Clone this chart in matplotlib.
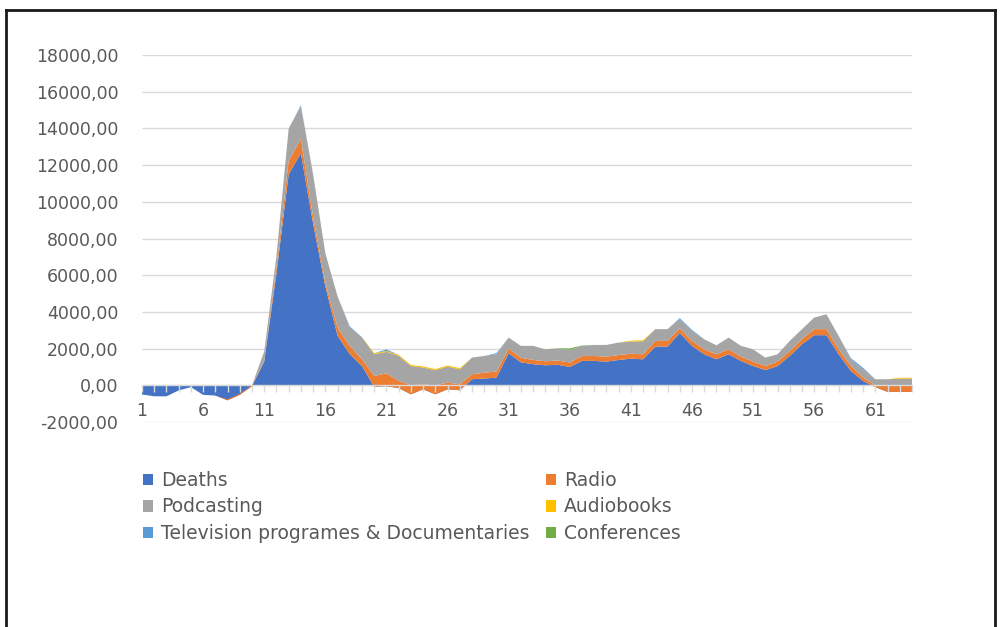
import matplotlib
matplotlib.use("Agg")
import matplotlib.pyplot as plt
from matplotlib.patches import Patch
from matplotlib.lines import Line2D
import numpy as np

x = list(range(1, 65))

deaths = [-500, -600, -600, -280, -100, -520, -560, -820, -520, -50,
          1300, 6100, 11500, 12650, 8800, 5400, 2700, 1700, 1050, -80,
          -50, -150, -490, -220, -490, -220, -270, 330, 370, 420,
          1750, 1250, 1150, 1090, 1120, 1000, 1330, 1330, 1290, 1380,
          1450, 1420, 2110, 2110, 2850, 2150, 1690, 1420, 1690, 1330,
          1050, 830, 1050, 1600, 2240, 2730, 2730, 1690, 780, 235,
          -100, -360, -360, -360]
radio = [0, 0, 0, 0, 0, 0, 0, 60, 60, 60,
         60, 300, 730, 770, 400, 200, 450, 440, 370, 590,
         700, 390, 490, 270, 490, 370, 320, 270, 320, 330,
         250, 250, 230, 220, 230, 240, 270, 270, 270, 270,
         270, 270, 310, 310, 250, 270, 270, 270, 270, 230,
         240, 220, 240, 270, 270, 330, 330, 270, 270, 185,
         100, 360, 360, 360]
podcasting = [0, 0, 0, 0, 0, 0, 0, 0, 0, 0,
              480, 650, 1760, 1780, 2300, 1600, 1700, 1010, 1200, 1180,
              1170, 1360, 1050, 920, 820, 870, 820, 910, 910, 940,
              600, 650, 770, 650, 650, 690, 550, 600, 640, 680,
              660, 710, 640, 640, 500, 540, 550, 490, 640, 590,
              670, 460, 400, 550, 550, 630, 810, 730, 370, 450,
              330, 330, 360, 360]
audiobooks = [0, 0, 0, 0, 0, 0, 0, 0, 0, 0,
              0, 0, 0, 0, 0, 0, 0, 0, 0, 60,
              50, 60, 60, 60, 60, 60, 60, 0, 0, 0,
              0, 0, 0, 0, 0, 0, 0, 0, 0, 0,
              50, 60, 0, 0, 0, 0, 0, 0, 0, 0,
              0, 0, 0, 0, 0, 0, 0, 0, 0, 0,
              0, 0, 50, 50]
television = [0, 0, 0, 0, 0, 0, 0, 0, 0, 0,
              0, 0, 0, 60, 0, 0, 0, 60, 0, 0,
              80, 0, 0, 0, 0, 0, 0, 0, 0, 60,
              0, 0, 0, 0, 0, 0, 0, 0, 0, 0,
              0, 0, 0, 0, 60, 60, 0, 0, 0, 0,
              0, 0, 0, 0, 0, 0, 0, 0, 60, 80,
              0, 0, 0, 0]
conferences = [0, 0, 0, 0, 0, 0, 0, 0, 0, 0,
               0, 0, 0, 0, 0, 0, 0, 0, 0, 0,
               0, 0, 0, 0, 0, 0, 0, 0, 0, 0,
               0, 0, 0, 0, 20, 80, 20, 0, 0, 0,
               0, 0, 0, 0, 0, 0, 0, 0, 0, 0,
               0, 0, 0, 0, 0, 0, 0, 0, 0, 0,
               0, 0, 0, 0]

series_names = ["Deaths", "Radio", "Podcasting", "Audiobooks",
                "Television programes & Documentaries", "Conferences"]
colors = ["#4472C4", "#ED7D31", "#A5A5A5", "#FFC000", "#5B9BD5", "#70AD47"]
y_ticks = [-2000, 0, 2000, 4000, 6000, 8000, 10000, 12000, 14000, 16000, 18000]
x_label_every = 5

plt.rcParams['font.family'] = ['DejaVu Sans']
W, H = 1001, 627
fig = plt.figure(figsize=(W / 100, H / 100), dpi=100)

ax = fig.add_axes([142 / W, 1 - 422 / H, (912 - 142) / W, (422 - 55) / H])
ax.set_axisbelow(False)
ax.hlines(y_ticks, 1, 64, colors='#D9D9D9', linewidth=1.0, zorder=0.5)
ax.stackplot(x, deaths, radio, podcasting, audiobooks, television, conferences,
             colors=colors, labels=series_names, linewidth=0, zorder=1)

ax.set_xlim(1, 64)
ax.set_ylim(-2000, 18000)
ax.set_yticks(y_ticks)
ax.set_yticklabels([f"{v:.2f}".replace(".", ",") for v in y_ticks])

ax.set_xticks(x)
ax.set_xticklabels([str(v) if (v - 1) % x_label_every == 0 else "" for v in x])

for s in ['top', 'right', 'left']:
    ax.spines[s].set_visible(False)
ax.spines['bottom'].set_position(('data', 0))
ax.spines['bottom'].set_color('#D9D9D9')
ax.spines['bottom'].set_linewidth(1.0)

ax.tick_params(axis='y', length=0, pad=17, labelsize=12.5, labelcolor='#595959')
ax.tick_params(axis='x', length=5, width=1.0, color='#D9D9D9', direction='out',
               pad=7, labelsize=12.5, labelcolor='#595959')
ax.set_facecolor('none')

# legend, row-major like the reference (2 columns)
handles = [Patch(facecolor=c, edgecolor='none') for c in colors]
order = [0, 2, 4, 1, 3, 5]
leg = fig.legend([handles[i] for i in order], [series_names[i] for i in order],
                 ncol=2, loc='upper left',
                 bbox_to_anchor=(143 / W, 1 - 471 / H),
                 frameon=False, fontsize=13.5, labelcolor='#595959',
                 handlelength=0.55, handleheight=0.55, handletextpad=0.43,
                 columnspacing=0.85, labelspacing=0.4, borderpad=0, borderaxespad=0)

# outer frame
frame_kw = dict(transform=fig.transFigure, color='#1a1a1a', linewidth=2.0)
fig.add_artist(Line2D([6 / W, 6 / W], [0, 1 - 10 / H], **frame_kw))
fig.add_artist(Line2D([6 / W, 995 / W], [1 - 10 / H, 1 - 10 / H], **frame_kw))
fig.add_artist(Line2D([995 / W, 995 / W], [0, 1 - 10 / H], **frame_kw))

fig.savefig("out.png", dpi=100, facecolor='white')
